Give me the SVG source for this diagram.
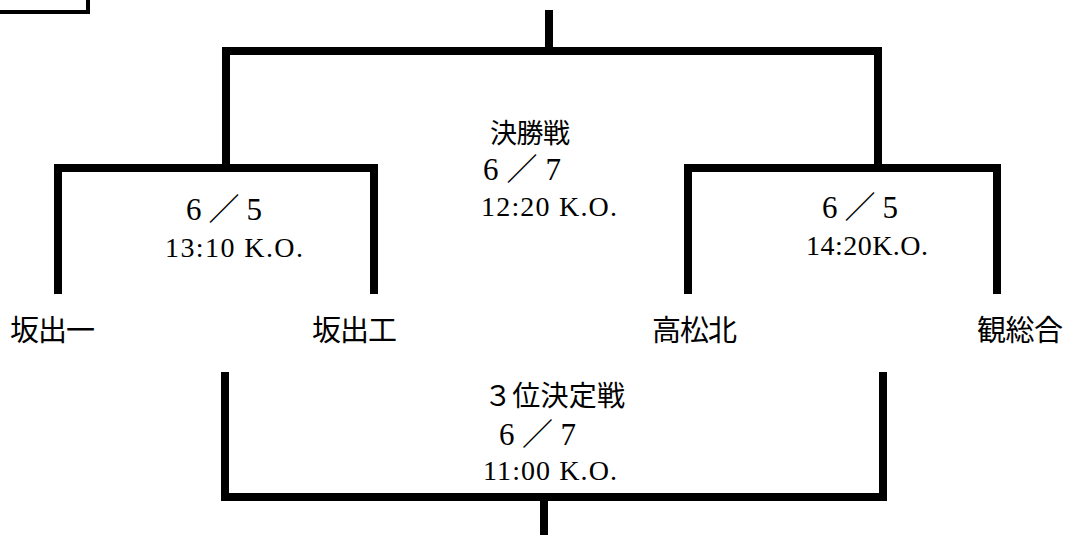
<svg xmlns="http://www.w3.org/2000/svg" width="1070" height="535" viewBox="0 0 1070 535">
<style>
.ln{stroke:#000;stroke-width:8;fill:none;stroke-linecap:square;stroke-linejoin:miter}
.box{stroke:#000;stroke-width:4;fill:none}
.jp{font-family:"Noto Sans CJK JP","Noto Sans CJK SC",sans-serif;fill:#000}
.num{font-family:"Liberation Serif","Noto Sans CJK JP",serif;fill:#000}
</style>
<rect width="1070" height="535" fill="#fff"/>
<g id="label-box">
<path class="box" d="M0 12 H88 V0"/>
</g>
<g id="connectors">
<path class="ln" d="M549 14 V51"/>
<path class="ln" d="M226 166 V51 H878 V166"/>
<path class="ln" d="M58 290 V168 H374 V290"/>
<path class="ln" d="M688 290 V168 H997 V290"/>
<path class="ln" d="M225 376 V497 H883 V376"/>
<path class="ln" d="M544 497 V535"/>
</g>
<g id="team-sakaide1"><text class="jp" x="10" y="341" font-size="29" textLength="85">坂出一</text></g>
<g id="team-sakaidekou"><text class="jp" x="312" y="341" font-size="29" textLength="85">坂出工</text></g>
<g id="team-takamatsukita"><text class="jp" x="652" y="341" font-size="29" textLength="85">高松北</text></g>
<g id="team-kansougou"><text class="jp" x="977" y="341" font-size="29" textLength="86">観総合</text></g>
<g id="final">
<text class="jp" x="490" y="143" font-size="27" textLength="80">決勝戦</text>
<text class="num" x="483" y="180" font-size="31" textLength="78">6／7</text>
<text class="num" x="481" y="216" font-size="28" textLength="136">12:20 K.O.</text>
</g>
<g id="semi-left">
<text class="num" x="186" y="220" font-size="31" textLength="76">6／5</text>
<text class="num" x="165" y="257" font-size="28" textLength="138">13:10 K.O.</text>
</g>
<g id="semi-right">
<text class="num" x="822" y="218" font-size="31" textLength="76">6／5</text>
<text class="num" x="806" y="255" font-size="28" textLength="122">14:20K.O.</text>
</g>
<g id="third-place">
<text class="jp" x="484" y="406" font-size="28" textLength="141">３位決定戦</text>
<text class="num" x="499" y="445" font-size="31" textLength="77">6／7</text>
<text class="num" x="483" y="480" font-size="28" textLength="134">11:00 K.O.</text>
</g>
</svg>
